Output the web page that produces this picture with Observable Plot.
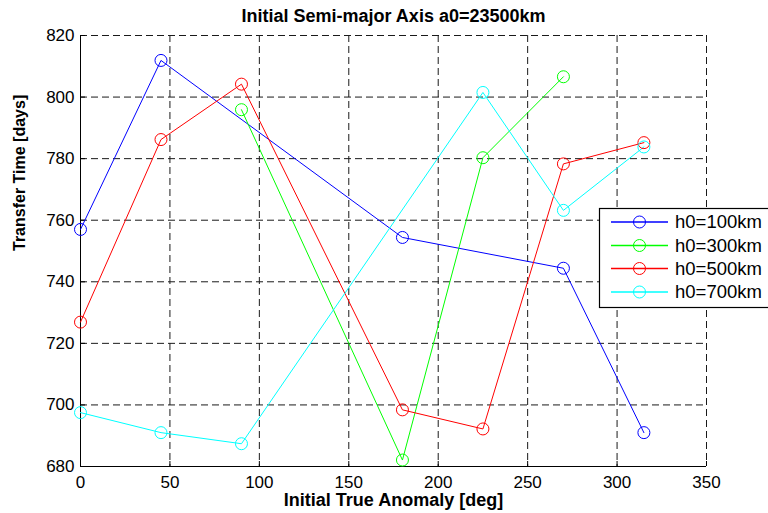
<!DOCTYPE html>
<html>
<head>
<meta charset="utf-8">
<script src="https://cdn.jsdelivr.net/npm/d3@7"></script>
<script src="https://cdn.jsdelivr.net/npm/@observablehq/plot@0.6"></script>
<style>
  html, body { margin: 0; padding: 0; background: #fff; }
  svg { display: block; }
</style>
</head>
<body>
<div id="chart"></div>
<script>
const titleText = "Initial Semi-major Axis a0=23500km";
const xLabel = "Initial True Anomaly [deg]";
const yLabel = "Transfer Time [days]";

const xTicks = [0, 50, 100, 150, 200, 250, 300, 350];
const yTicks = [680, 700, 720, 740, 760, 780, 800, 820];

const seriesNames = ["h0=100km", "h0=300km", "h0=500km", "h0=700km"];
const seriesColors = ["#0000ff", "#00ff00", "#ff0000", "#00ffff"];

const anomaly100 = [0, 45, 180, 270, 315];
const time100 = [757.0, 811.9, 754.4, 744.4, 691.0];

const anomaly300 = [90, 180, 225, 270];
const time300 = [795.9, 682.1, 780.3, 806.6];

const anomaly500 = [0, 45, 90, 180, 225, 270, 315];
const time500 = [726.9, 786.2, 804.2, 698.4, 692.2, 778.3, 785.2];

const anomaly700 = [0, 45, 90, 225, 270, 315];
const time700 = [697.5, 691.0, 687.4, 801.5, 763.2, 783.8];

const seriesX = [anomaly100, anomaly300, anomaly500, anomaly700];
const seriesY = [time100, time300, time500, time700];

const rows = [];
seriesNames.forEach((name, i) => {
  seriesX[i].forEach((x, j) => {
    rows.push({series: name, color: seriesColors[i], anomaly: x, time: seriesY[i][j]});
  });
});

const font = "'Liberation Sans', Arial, Helvetica, sans-serif";

const chart = Plot.plot({
  width: 768,
  height: 513,
  marginLeft: 80,
  marginRight: 62,
  marginTop: 35,
  marginBottom: 47,
  style: {fontFamily: font, background: "#fff", color: "#000", overflow: "hidden"},
  x: {domain: [0, 350]},
  y: {domain: [680, 820]},
  color: {type: "identity"},
  marks: [
    Plot.gridX(xTicks, {stroke: "#1a1a1a", strokeOpacity: 1, strokeWidth: 1, strokeDasharray: "7,4"}),
    Plot.gridY(yTicks, {stroke: "#1a1a1a", strokeOpacity: 1, strokeWidth: 1, strokeDasharray: "7,4"}),
    Plot.ruleX([0], {stroke: "#000", strokeWidth: 1}),
    Plot.ruleY([680], {stroke: "#000", strokeWidth: 1}),
    Plot.axisX(xTicks, {tickSize: -5, tickPadding: 14, fontSize: 17, label: null, tickFormat: d => String(d), stroke: "#000"}),
    Plot.axisY(yTicks, {tickSize: -5, tickPadding: 11, fontSize: 17, label: null, tickFormat: d => String(d), stroke: "#000"}),
    Plot.line(rows, {x: "anomaly", y: "time", z: "series", stroke: "color", strokeWidth: 1}),
    Plot.dot(rows, {x: "anomaly", y: "time", stroke: "color", r: 6, strokeWidth: 1, fill: "none"}),
    Plot.text([titleText], {frameAnchor: "top", dy: -19, lineAnchor: "middle", fontSize: 18, fontWeight: "bold", fill: "#000"}),
    Plot.text([xLabel], {frameAnchor: "bottom", dy: 34, lineAnchor: "middle", fontSize: 18, fontWeight: "bold", fill: "#000"}),
    Plot.text([yLabel], {frameAnchor: "left", dx: -61, rotate: -90, lineAnchor: "middle", fontSize: 16, fontWeight: "bold", fill: "#000"})
  ]
});

document.getElementById("chart").appendChild(chart);

// Legend box (top-right, partially beyond the right edge as in the reference)
const svg = d3.select(chart);
const lg = svg.append("g")
  .attr("font-family", font)
  .attr("font-size", 18.5)
  .attr("text-anchor", "start");
lg.append("rect")
  .attr("x", 599.5).attr("y", 208.5)
  .attr("width", 190).attr("height", 99)
  .attr("fill", "#fff").attr("stroke", "#000").attr("stroke-width", 1.2);
const rowY = [222, 245.5, 268.5, 292];
seriesNames.forEach((name, i) => {
  const g = lg.append("g");
  g.append("line")
    .attr("x1", 611).attr("x2", 668)
    .attr("y1", rowY[i]).attr("y2", rowY[i])
    .attr("stroke", seriesColors[i]).attr("stroke-width", 1.5);
  g.append("circle")
    .attr("cx", 639.5).attr("cy", rowY[i]).attr("r", 6)
    .attr("fill", "none").attr("stroke", seriesColors[i]).attr("stroke-width", 1);
  g.append("text")
    .attr("x", 675).attr("y", rowY[i]).attr("dy", "0.35em")
    .attr("text-anchor", "start")
    .attr("fill", "#000").text(name);
});
</script>
</body>
</html>
